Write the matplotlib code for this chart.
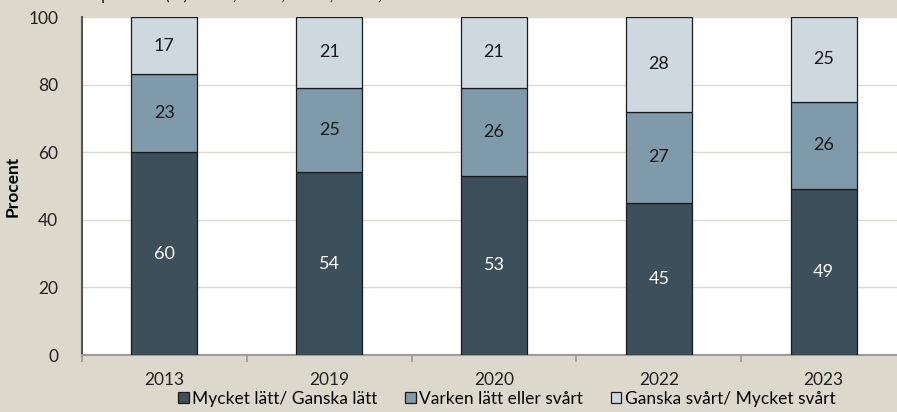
import matplotlib.pyplot as plt
import numpy as np

plt.rcParams['font.family'] = ['Lato', 'DejaVu Sans']

years = ['2013', '2019', '2020', '2022', '2023']
latt = [60, 54, 53, 45, 49]
varken = [23, 25, 26, 27, 26]
svart = [17, 21, 21, 28, 25]
labels = ['Mycket lätt/ Ganska lätt', 'Varken lätt eller svårt', 'Ganska svårt/ Mycket svårt']
colors = ['#3d4f5a', '#7f9aaa', '#cdd8df']
text_colors = ['white', '#1a1a1a', '#1a1a1a']

bg = '#dcd9cc'
fig = plt.figure(figsize=(8.97, 4.12), dpi=100, facecolor=bg)
ax = fig.add_axes([82 / 897, 57 / 412, 824 / 897, 338 / 412])
ax.set_facecolor('white')

x = np.arange(len(years))
bottom = np.zeros(len(years))
for vals, col, tc, lab in zip([latt, varken, svart], colors, text_colors, labels):
    ax.bar(x, vals, 0.4, bottom=bottom, color=col, edgecolor='#1a1a1a',
           linewidth=0.9, label=lab, zorder=3)
    for xi, b, v in zip(x, bottom, vals):
        ax.text(xi, b + v / 2, str(v), ha='center', va='center', color=tc,
                fontsize=13, zorder=4)
    bottom += np.array(vals)

ax.set_xlim(-0.5, len(years) - 0.5)
ax.set_ylim(0, 100)
ax.set_yticks(range(0, 101, 20))
ax.yaxis.grid(True, color='#dddbd0', linewidth=1, zorder=0)
ax.tick_params(axis='y', length=0, labelsize=12.5, pad=17, colors='#222222')

ax.set_xticks(x)
ax.set_xticklabels(years, fontsize=12.5)
ax.set_xticks(np.arange(-0.5, len(years) + 0.5), minor=True)
ax.tick_params(axis='x', which='major', length=0, pad=12, colors='#222222')
ax.tick_params(axis='x', which='minor', length=5, color='#9a9a9a', width=1.2)

for s in ['top', 'right']:
    ax.spines[s].set_visible(False)
ax.spines['left'].set_color('#555555')
ax.spines['left'].set_linewidth(1.5)
ax.spines['bottom'].set_color('#9a9a9a')
ax.spines['bottom'].set_linewidth(1.5)

ax.set_ylabel('Procent', fontsize=12.5, fontweight='bold')
ax.yaxis.set_label_coords(-0.074, 0.5)

fig.legend(loc='lower center', bbox_to_anchor=(0.565, -0.025), ncol=3,
           frameon=False, fontsize=12.5, handlelength=0.6, handleheight=0.6,
           handletextpad=0.2, columnspacing=1.6)

# title cut off above the image, only descenders visible
fig.text(101 / 897, 1.0, 'procent (%) 2013, 2019, 2020, 2022, 2023',
         fontsize=12.5, va='baseline', ha='left', color='#222222')

fig.savefig('out.png', dpi=100, facecolor=bg)
